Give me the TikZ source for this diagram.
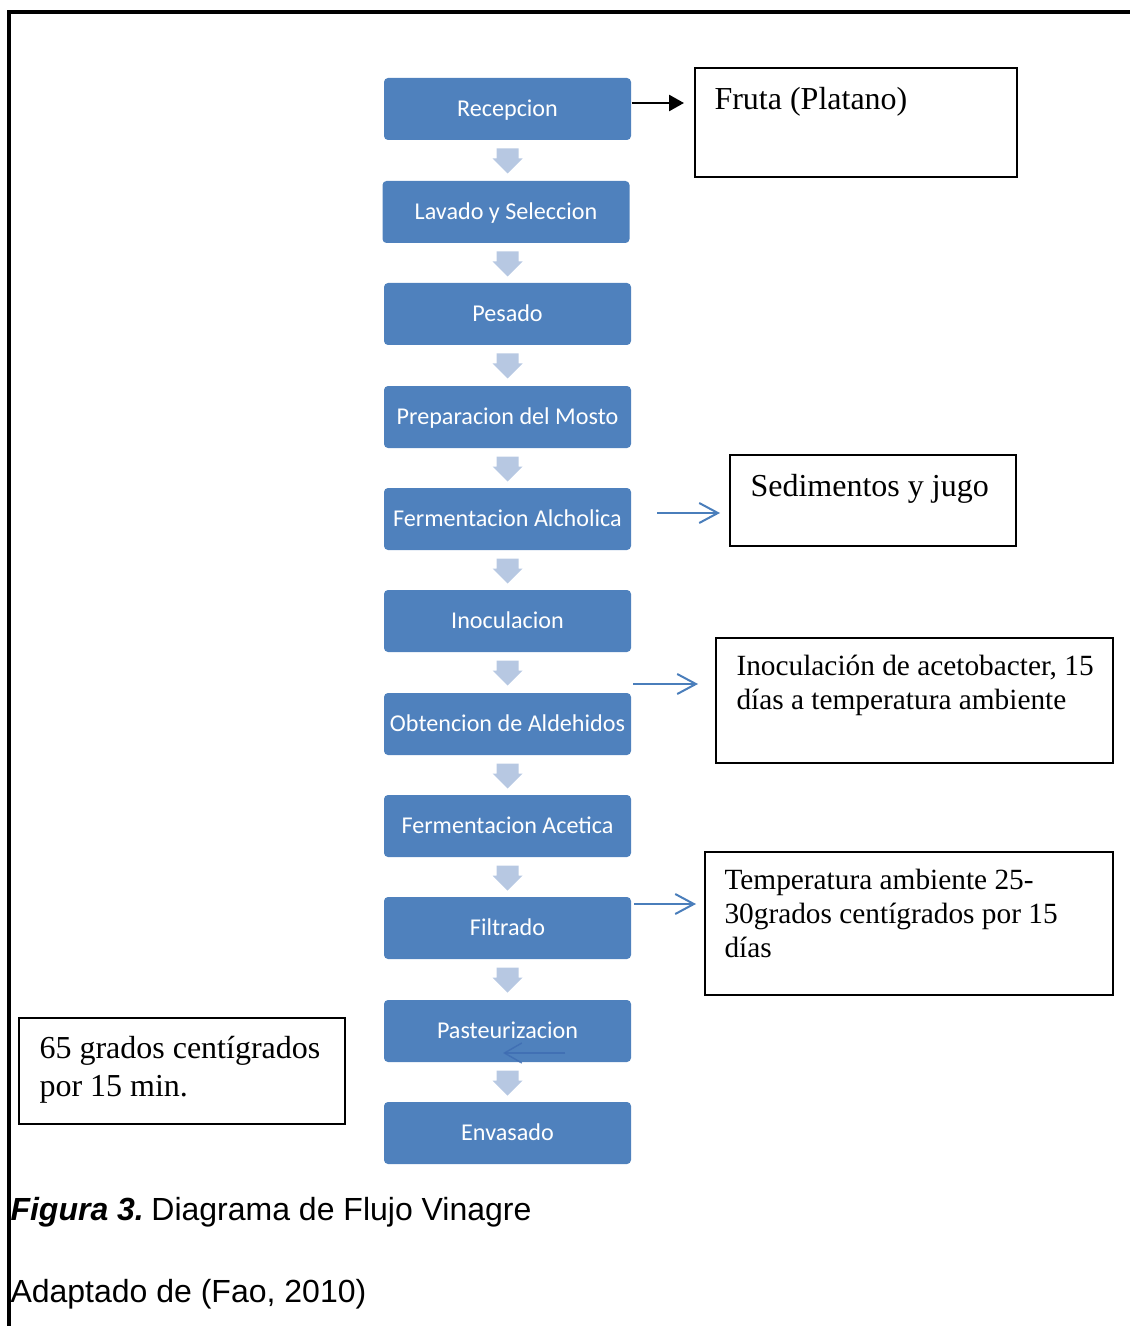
\documentclass[tikz,border=0pt]{standalone}
\usepackage{fontspec}
\setmainfont{Liberation Serif}
\newfontfamily\boxfont{Carlito}
\newfontfamily\capfont{Liberation Sans}
\usetikzlibrary{arrows.meta,calc}

\tikzset{every picture/.style={line width=0.75pt}}
\tikzset{
  procbox/.style={fill={rgb, 255:red, 79; green, 129; blue, 189 }, rounded corners=3pt, minimum width=185.25pt, minimum height=46.5pt, inner sep=0pt, text height=11.7pt, text depth=0pt, text=white, font=\boxfont\fontsize{18.1}{21}\selectfont},
  notebox/.style={draw={rgb, 255:red, 0; green, 0; blue, 0 }, line width=1.2pt, inner sep=0pt},
  notetext/.style={anchor=north west, inner sep=0pt, align=left, font=\fontsize{24}{25.5}\selectfont},
  dnarrow/.style={fill={rgb, 255:red, 183; green, 200; blue, 226 }},
  sidearrow/.style={draw={rgb, 255:red, 74; green, 126; blue, 187 }, line width=1.5pt, -{Straight Barb[length=14pt,width=15pt,line width=1.5pt]}},
  capline/.style={anchor=base west, inner sep=0pt, font=\capfont\fontsize{24}{28}\selectfont}
}

\begin{document}
\begin{tikzpicture}[x=0.75pt,y=0.75pt,yscale=-1,xscale=1]
\useasboundingbox (0,0) rectangle (1129,1326);

%Straight Lines: frame
\draw [line width=3.5pt]  (9,1332) -- (9,12) -- (1135,12) ;

%Shape: Rounded Rectangles
\node [procbox] (recep) at (507.5,109) {Recepcion};
\node [procbox] (lavado) at (506,212) {Lavado y Seleccion};
\node [procbox] (pesado) at (507.5,314) {Pesado};
\node [procbox] (mosto) at (507.5,417) {Preparacion del Mosto};
\node [procbox] (fermalc) at (507.5,519) {Fermentacion Alcholica};
\node [procbox] (inocul) at (507.5,621) {Inoculacion};
\node [procbox] (aldeh) at (507.5,724) {Obtencion de Aldehidos};
\node [procbox] (fermac) at (507.5,826) {Fermentacion Acetica};
\node [procbox] (filtr) at (507.5,928) {Filtrado};
\node [procbox] (paste) at (507.5,1031) {Pasteurizacion};
\node [procbox] (envas) at (507.5,1133) {Envasado};

%Shape: Down Arrows
\fill [dnarrow] ($(recep.south)+(-11,8)$) -- ++(22,0) -- ++(0,10) -- ++(4,0) -- ++(-15,15) -- ++(-15,-15) -- ++(4,0) -- cycle ;
\fill [dnarrow] ($(lavado.south)+(-9.5,8)$) -- ++(22,0) -- ++(0,10) -- ++(4,0) -- ++(-15,15) -- ++(-15,-15) -- ++(4,0) -- cycle ;
\fill [dnarrow] ($(pesado.south)+(-11,8)$) -- ++(22,0) -- ++(0,10) -- ++(4,0) -- ++(-15,15) -- ++(-15,-15) -- ++(4,0) -- cycle ;
\fill [dnarrow] ($(mosto.south)+(-11,8)$) -- ++(22,0) -- ++(0,10) -- ++(4,0) -- ++(-15,15) -- ++(-15,-15) -- ++(4,0) -- cycle ;
\fill [dnarrow] ($(fermalc.south)+(-11,8)$) -- ++(22,0) -- ++(0,10) -- ++(4,0) -- ++(-15,15) -- ++(-15,-15) -- ++(4,0) -- cycle ;
\fill [dnarrow] ($(inocul.south)+(-11,8)$) -- ++(22,0) -- ++(0,10) -- ++(4,0) -- ++(-15,15) -- ++(-15,-15) -- ++(4,0) -- cycle ;
\fill [dnarrow] ($(aldeh.south)+(-11,8)$) -- ++(22,0) -- ++(0,10) -- ++(4,0) -- ++(-15,15) -- ++(-15,-15) -- ++(4,0) -- cycle ;
\fill [dnarrow] ($(fermac.south)+(-11,8)$) -- ++(22,0) -- ++(0,10) -- ++(4,0) -- ++(-15,15) -- ++(-15,-15) -- ++(4,0) -- cycle ;
\fill [dnarrow] ($(filtr.south)+(-11,8)$) -- ++(22,0) -- ++(0,10) -- ++(4,0) -- ++(-15,15) -- ++(-15,-15) -- ++(4,0) -- cycle ;
\fill [dnarrow] ($(paste.south)+(-11,8)$) -- ++(22,0) -- ++(0,10) -- ++(4,0) -- ++(-15,15) -- ++(-15,-15) -- ++(4,0) -- cycle ;

%Straight Lines: faint arrow in Pasteurizacion
\coordinate (gh1) at (565,1053) ;
\coordinate (gh2) at (503,1053) ;
\draw [draw={rgb, 255:red, 62; green, 108; blue, 178 }, draw opacity=0.8, line width=1.1pt, -{Straight Barb[length=13pt,width=15pt,line width=1.1pt]}] (gh1) -- (gh2) ;

%Shape: Rectangles
\node [notebox, minimum width=241.5pt, minimum height=81.75pt] (fruta) at (856,122.5) {};
\node [notebox, minimum width=214.5pt, minimum height=68.25pt] (sedim) at (873,500.5) {};
\node [notebox, minimum width=297.75pt, minimum height=93.75pt] (inocnote) at (914.5,700.5) {};
\node [notebox, minimum width=306pt, minimum height=107.25pt] (tempnote) at (909,923.5) {};
\node [notebox, minimum width=244.5pt, minimum height=79.5pt] (pastnote) at (182,1071) {};

% Text Node
\node [notetext] (frutatxt) at (714,87) {Fruta (Platano)};
% Text Node
\node [notetext] (sedimtxt) at (750,474) {Sedimentos y jugo};
% Text Node
\node [notetext, font=\fontsize{22}{25.5}\selectfont] (inoctxt) at (736,655) {Inoculación de acetobacter, 15\\días a temperatura ambiente};
% Text Node
\node [notetext, font=\fontsize{22}{25.5}\selectfont] (temptxt) at (724,869) {Temperatura ambiente 25-\\30grados centígrados por 15\\días};
% Text Node
\node [notetext, font=\fontsize{24}{28}\selectfont] (pasttxt) at (39,1036) {65 grados centígrados\\por 15 min.};

%Straight Lines: side arrows
\coordinate (fa) at (684,103) ;
\draw [line width=2pt, -{Triangle[length=11.25pt,width=12pt]}] (recep.east |- fa) -- (fa) ;
\coordinate (sa1) at (657,513) ;
\coordinate (sa2) at (720,513) ;
\draw [sidearrow] (sa1) -- (sa2) ;
\coordinate (ia1) at (633,684) ;
\coordinate (ia2) at (698,684) ;
\draw [sidearrow] (ia1) -- (ia2) ;
\coordinate (ta1) at (634,904) ;
\coordinate (ta2) at (696,904) ;
\draw [sidearrow] (ta1) -- (ta2) ;

% Text Node
\node [capline] (figcap) at (10,1220) {{\bfseries\itshape Figura 3.}\kern-1pt\ Diagrama de Flujo Vinagre};
% Text Node
\node [capline] (fuente) at (10,1302) {Adaptado de (Fao, 2010)};

\end{tikzpicture}
\end{document}
